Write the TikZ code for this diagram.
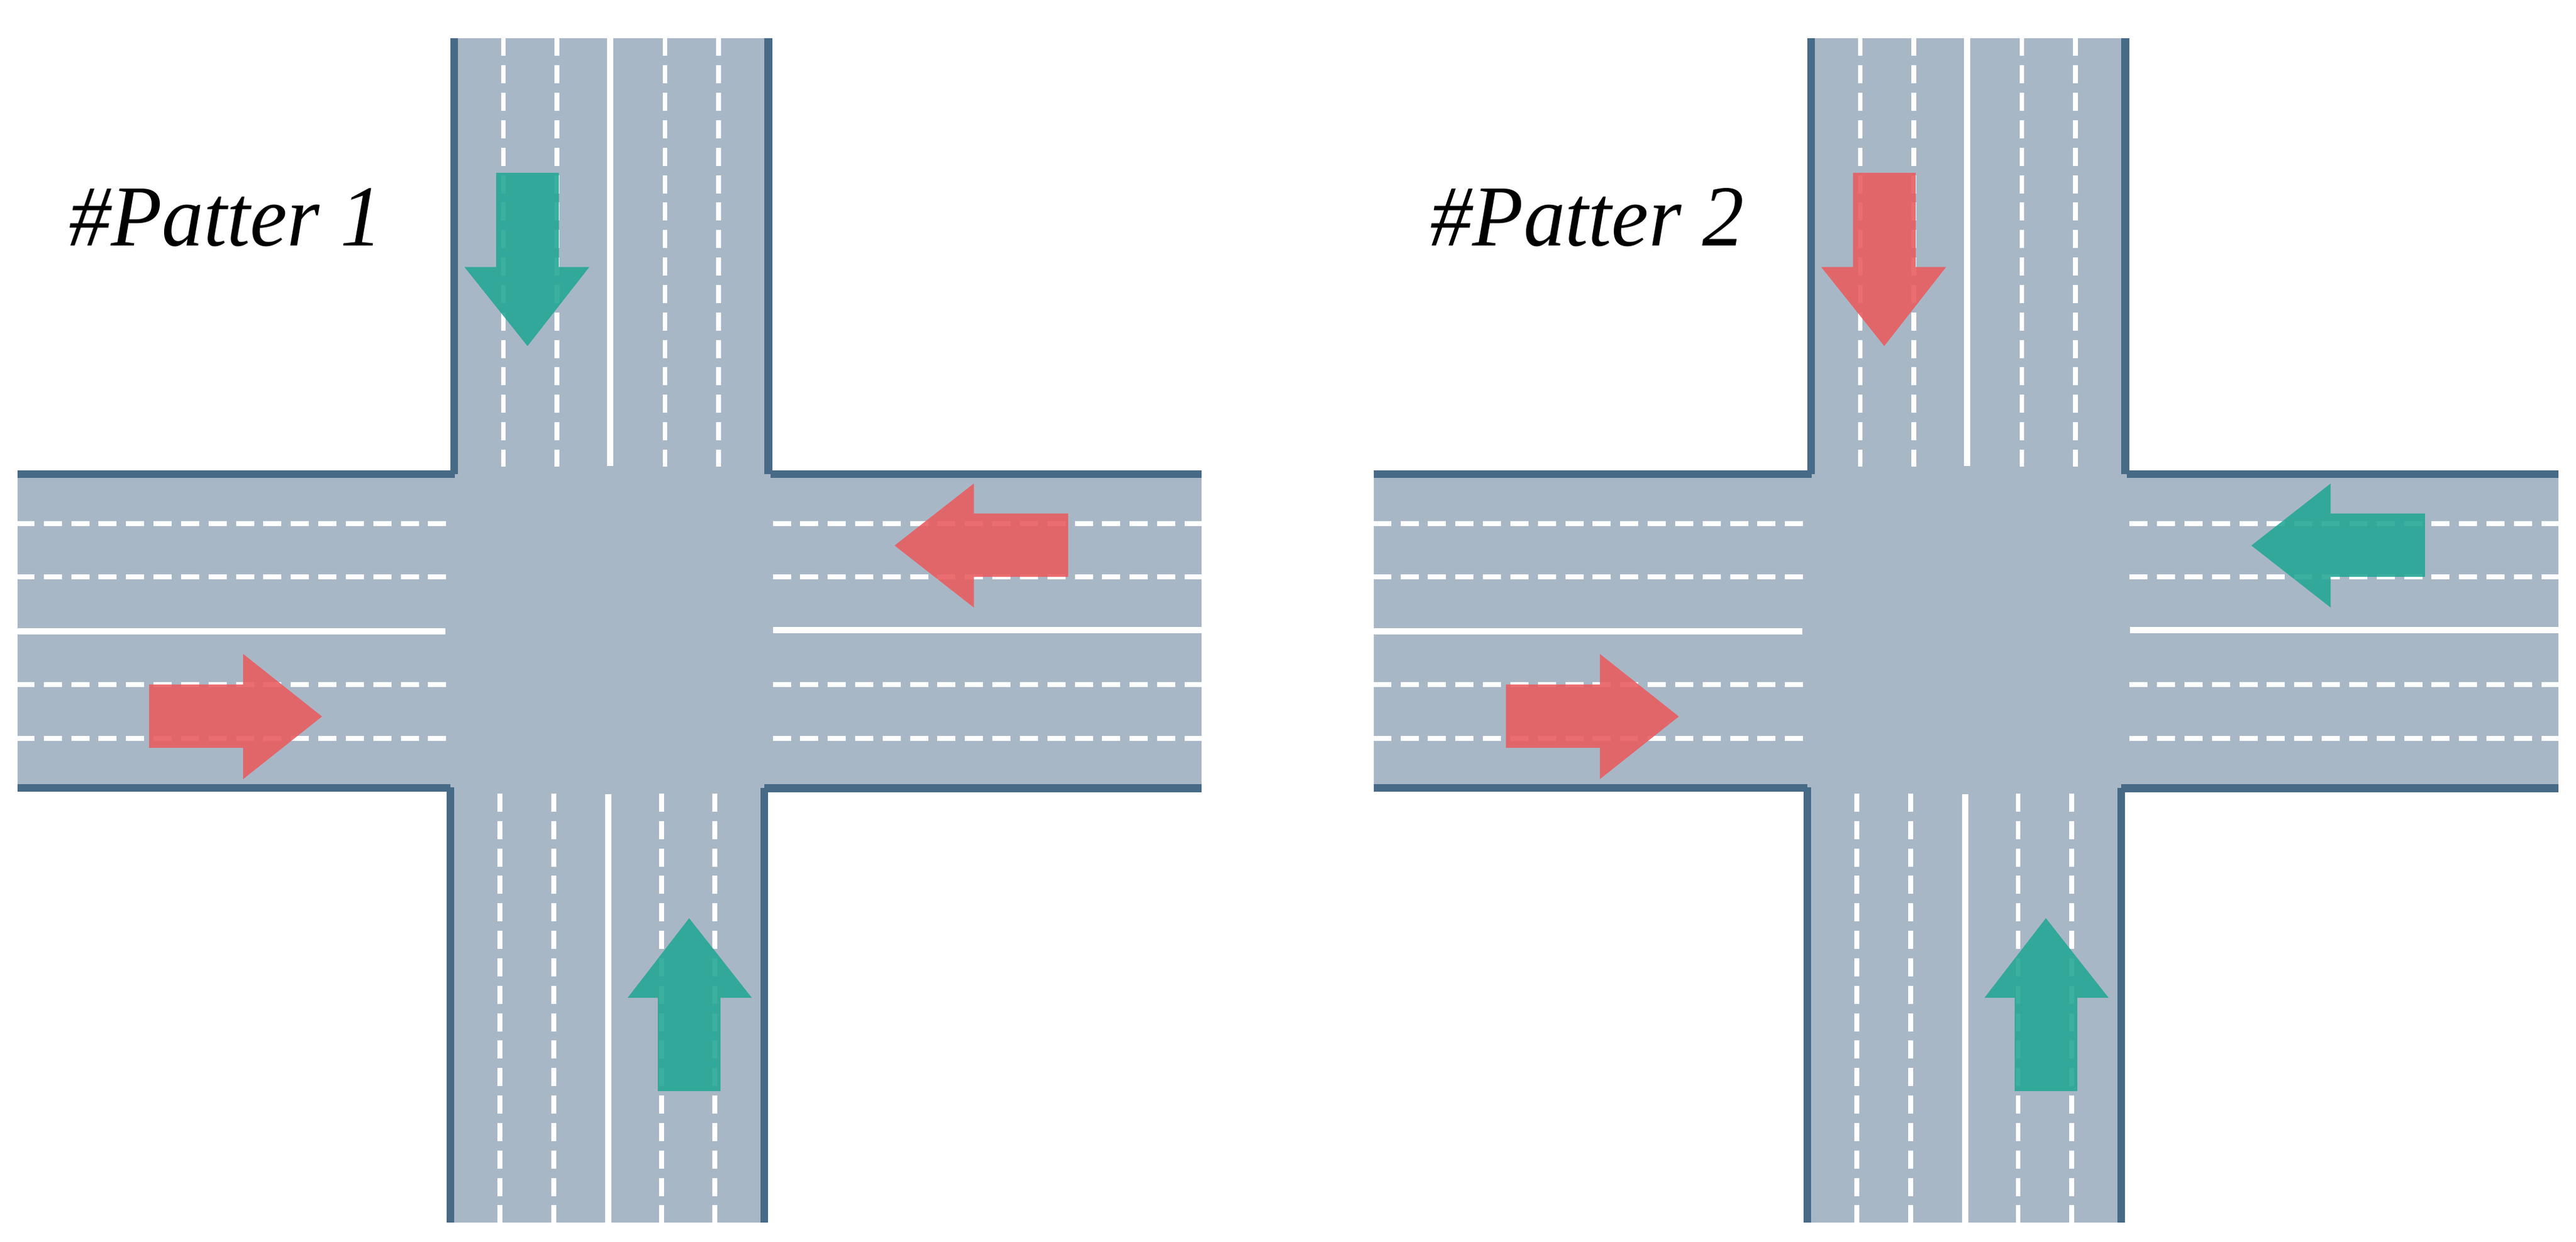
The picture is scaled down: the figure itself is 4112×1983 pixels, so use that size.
\documentclass[tikz,border=0pt]{standalone}
\usepackage{fontspec}
\setmainfont{Liberation Serif}[ItalicFeatures={FakeStretch=0.96}]

\definecolor{roadGrey}{HTML}{A8B7C6}
\definecolor{kerbBlue}{HTML}{476A87}
\definecolor{flowRed}{HTML}{E85E61}
\definecolor{flowTeal}{HTML}{26A796}

\tikzset{
    road/.style={fill=roadGrey},
    kerb/.style={draw=kerbBlue, line width=0.125cm},
    laneDash/.style={draw=white, line width=0.075cm, dash pattern=on 0.29cm off 0.148cm},
    laneSolid/.style={draw=white, line width=0.1cm},
    flow/.style={fill=#1, fill opacity=0.9},
    patLabel/.style={font=\itshape\fontsize{39.5pt}{40pt}\selectfont, anchor=base west, inner sep=0pt, text=black}
}

\begin{document}
\begin{tikzpicture}[x=0.01cm, y=-0.01cm]
    \useasboundingbox (0,0) rectangle (4112,1983);

    % one junction per pattern, second one shifted right
    \foreach \shiftPos/\patNum/\eastCol/\northCol/\textX in {0/1/flowRed/flowTeal/110, 21.645/2/flowTeal/flowRed/117.5} {
    \begin{scope}[xshift=\shiftPos cm]
        % Draw the road surface
        \fill[road] (27.5,757) rectangle (1917.7,1258);
        \fill[road] (731,61) rectangle (1220.5,757);
        \fill[road] (725,1258) rectangle (1214,1952);

        % Draw the kerbs
        \draw[kerb] (27.5,757) -- (726,757);
        \draw[kerb] (725,61) -- (725,757);
        \draw[kerb] (1226.5,61) -- (1226.5,757);
        \draw[kerb] (1229.5,757) -- (1917.7,757);
        \draw[kerb] (27.5,1258) -- (719,1258);
        \draw[kerb] (719,1257.5) -- (719,1952);
        \draw[kerb] (1220,1258) -- (1220,1952);
        \draw[kerb] (1220,1258.5) -- (1917.7,1258.5);

        % Draw the lane lines
        \foreach \laneY in {836, 921, 1093, 1179} {
            \draw[laneDash, dash phase=0.015cm] (27.5,\laneY) -- (712,\laneY);
            \draw[laneDash] (1233.5,\laneY) -- (1917.7,\laneY);
        }
        \foreach \laneX in {803.6, 889, 1061.6, 1147} {
            \draw[laneDash] (\laneX,60.5) -- (\laneX,745.4);
        }
        \foreach \laneX in {798, 884, 1055.8, 1141} {
            \draw[laneDash] (\laneX,1267) -- (\laneX,1952);
        }
        \draw[laneSolid] (27.5,1008.5) -- (711,1008.5);
        \draw[laneSolid] (1234.4,1006.5) -- (1917.7,1006.5);
        \draw[laneSolid] (974,60.5) -- (974,744.4);
        \draw[laneSolid] (971,1267.5) -- (971,1952);

        % Draw the arrows
        \fill[flow=flowRed] (238,1093) -- (388,1093) -- (388,1044) -- (514,1144) -- (388,1244) -- (388,1194) -- (238,1194) -- cycle; % from west
        \fill[flow=\eastCol] (1705,820) -- (1554.5,820) -- (1554.5,772) -- (1428,871) -- (1554.5,970) -- (1554.5,921) -- (1705,921) -- cycle; % from east
        \fill[flow=\northCol] (792,276) -- (892,276) -- (892,426.5) -- (940.6,426.5) -- (842,552.5) -- (741.5,426.5) -- (792,426.5) -- cycle; % from north
        \fill[flow=flowTeal] (1050,1742) -- (1150,1742) -- (1150,1593) -- (1200,1593) -- (1100,1466) -- (1002,1593) -- (1050,1593) -- cycle; % from south

        % Draw the label
        \node[patLabel] (patter\patNum) at (\textX,393) {\#Patter \patNum};
    \end{scope}
    }
\end{tikzpicture}
\end{document}
